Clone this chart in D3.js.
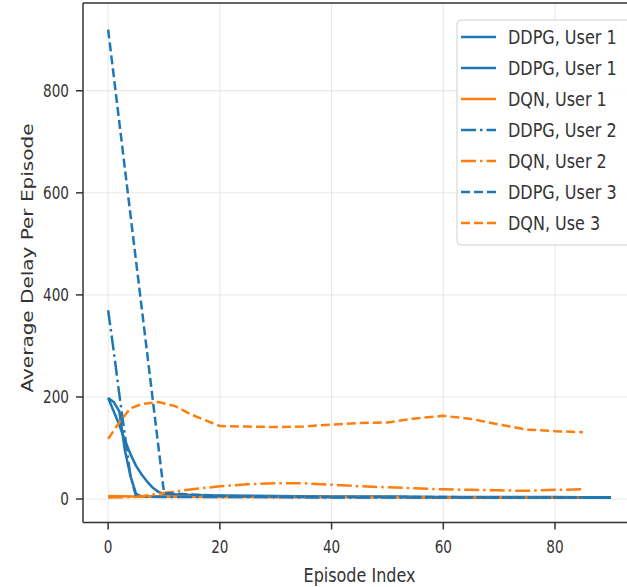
<!DOCTYPE html>
<html>
<head>
<meta charset="utf-8">
<script src="https://cdn.jsdelivr.net/npm/d3@7"></script>
<style>
  body { margin: 0; background: #fff; overflow: hidden; }
  svg { display: block; }
  text { font-family: "DejaVu Sans", sans-serif; fill: #333; }
</style>
</head>
<body>
<div id="chart"></div>
<script>
// datos
const xTicks = [0, 20, 40, 60, 80];
const yTicks = [0, 200, 400, 600, 800];

const ddpgU1aEp = [0, 1, 2, 3, 4, 5, 6, 10, 20, 30, 40, 50, 60, 70, 80, 90];
const ddpgU1aVal = [198, 190, 172, 95, 45, 10, 5, 5, 5, 4, 4, 4, 3, 3, 3, 3];

const ddpgU1bEp = [0, 1, 2, 3, 4, 5, 6, 7, 8, 9, 10, 15, 20, 30, 40, 50, 60, 70, 80, 90];
const ddpgU1bVal = [198, 172, 145, 115, 88, 65, 48, 34, 22, 14, 10, 8, 7, 6, 5, 5, 4, 4, 4, 3];

const dqnU1Ep = [0, 5, 10, 20, 30, 40, 50, 60, 70, 80, 85];
const dqnU1Val = [6, 5, 5, 4, 4, 4, 4, 3, 3, 3, 3];

const ddpgU2Ep = [0, 1, 2, 3, 4, 5, 10, 20, 30, 40, 50, 60, 70, 80, 90];
const ddpgU2Val = [370, 290, 205, 125, 45, 5, 4, 4, 4, 3, 3, 3, 3, 3, 3];

const dqnU2Ep = [0, 5, 10, 15, 20, 25, 30, 35, 40, 45, 50, 55, 60, 65, 70, 75, 80, 85];
const dqnU2Val = [3, 4, 12, 19, 25, 29, 31, 31, 28, 25, 23, 21, 19, 18, 17, 16, 18, 19];

const ddpgU3Ep = [0, 10, 20, 30, 40, 50, 60, 70, 80, 90];
const ddpgU3Val = [920, 12, 6, 5, 4, 4, 4, 3, 3, 3];

const dqnU3Ep = [0, 2, 4, 6, 9, 12, 15, 20, 25, 30, 35, 40, 45, 50, 55, 60, 65, 70, 75, 80, 85];
const dqnU3Val = [118, 150, 178, 186, 190, 182, 165, 143, 142, 141, 142, 146, 149, 150, 158, 163, 157, 146, 136, 133, 131];

const blue = "#1f77b4", orange = "#ff7f0e";
const dashed = "9,4", dashdot = "15,4,2.5,4";

const series = [
    { name: "DDPG, User 1", ep: ddpgU1aEp, val: ddpgU1aVal, color: blue, dash: null },
    { name: "DDPG, User 1", ep: ddpgU1bEp, val: ddpgU1bVal, color: blue, dash: null },
    { name: "DQN, User 1", ep: dqnU1Ep, val: dqnU1Val, color: orange, dash: null },
    { name: "DDPG, User 2", ep: ddpgU2Ep, val: ddpgU2Val, color: blue, dash: dashdot },
    { name: "DQN, User 2", ep: dqnU2Ep, val: dqnU2Val, color: orange, dash: dashdot },
    { name: "DDPG, User 3", ep: ddpgU3Ep, val: ddpgU3Val, color: blue, dash: dashed },
    { name: "DQN, Use 3", ep: dqnU3Ep, val: dqnU3Val, color: orange, dash: dashed }
];

const width = 627, height = 587;
const mLeft = 83, mRight = 636, mTop = 3, mBottom = 522.5;
const squeeze = 0.8; // la imagen original esta comprimida en horizontal

const svg = d3.select("#chart").append("svg")
    .attr("width", width)
    .attr("height", height);

const x = d3.scaleLinear().domain([-4.5, 94.5]).range([mLeft, mRight]);
const y = d3.scaleLinear().domain([-46, 972]).range([mBottom, mTop]);

function texto(g, px, py, txt, size, anchor, rot) {
    const t = g.append("g")
        .attr("transform", `translate(${px},${py}) scale(${squeeze},1)` + (rot ? " rotate(-90)" : ""));
    return t.append("text")
        .attr("text-anchor", anchor)
        .style("font-size", size + "px")
        .text(txt);
}

// grid
const grid = svg.append("g");
grid.selectAll("line.gx").data(xTicks).enter().append("line")
    .attr("x1", d => x(d)).attr("x2", d => x(d))
    .attr("y1", mTop).attr("y2", mBottom)
    .attr("stroke", "#e6e6e6").attr("stroke-width", 1);
grid.selectAll("line.gy").data(yTicks).enter().append("line")
    .attr("x1", mLeft).attr("x2", mRight)
    .attr("y1", d => y(d)).attr("y2", d => y(d))
    .attr("stroke", "#e6e6e6").attr("stroke-width", 1);

// lineas
const line = d3.line()
    .x(d => x(d[0]))
    .y(d => y(d[1]));

const plot = svg.append("g");
series.forEach(s => {
    const pts = s.ep.map((e, i) => [e, s.val[i]]);
    plot.append("path")
        .attr("d", line(pts))
        .attr("fill", "none")
        .attr("stroke", s.color)
        .attr("stroke-width", 2.5)
        .attr("stroke-dasharray", s.dash)
        .attr("stroke-linejoin", "round");
});

// ejes
const ax = svg.append("g");
ax.append("line").attr("x1", mLeft).attr("x2", mRight).attr("y1", mBottom).attr("y2", mBottom)
    .attr("stroke", "#333").attr("stroke-width", 1.5);
ax.append("line").attr("x1", mLeft).attr("x2", mLeft).attr("y1", mTop).attr("y2", mBottom)
    .attr("stroke", "#333").attr("stroke-width", 1.5);
ax.append("line").attr("x1", mLeft).attr("x2", mRight).attr("y1", mTop).attr("y2", mTop)
    .attr("stroke", "#333").attr("stroke-width", 1.5);

xTicks.forEach(t => {
    ax.append("line").attr("x1", x(t)).attr("x2", x(t)).attr("y1", mBottom).attr("y2", mBottom + 7)
        .attr("stroke", "#333").attr("stroke-width", 1.5);
    texto(ax, x(t), 553, t, 17, "middle");
});
yTicks.forEach(t => {
    ax.append("line").attr("x1", mLeft - 7).attr("x2", mLeft).attr("y1", y(t)).attr("y2", y(t))
        .attr("stroke", "#333").attr("stroke-width", 1.5);
    texto(ax, 69, y(t) + 6, t, 17, "end");
});

texto(svg, (mLeft + mRight) / 2, 582, "Episode Index", 20, "middle");
texto(svg, 33, 258, "Average Delay Per Episode", 20, "middle", true);

// leyenda (el borde derecho queda fuera de la imagen)
const leg = svg.append("g");
leg.append("rect")
    .attr("x", 457).attr("y", 20)
    .attr("width", 174).attr("height", 225)
    .attr("rx", 4)
    .attr("fill", "#fff").attr("fill-opacity", 0.85)
    .attr("stroke", "#d0d0d0").attr("stroke-width", 1);

series.forEach((s, i) => {
    const ly = 37 + 31 * i;
    leg.append("line")
        .attr("x1", 461).attr("x2", 496)
        .attr("y1", ly).attr("y2", ly)
        .attr("stroke", s.color)
        .attr("stroke-width", 2.5)
        .attr("stroke-dasharray", s.dash);
    texto(leg, 508, ly + 7, s.name, 20, "start");
});
</script>
</body>
</html>
